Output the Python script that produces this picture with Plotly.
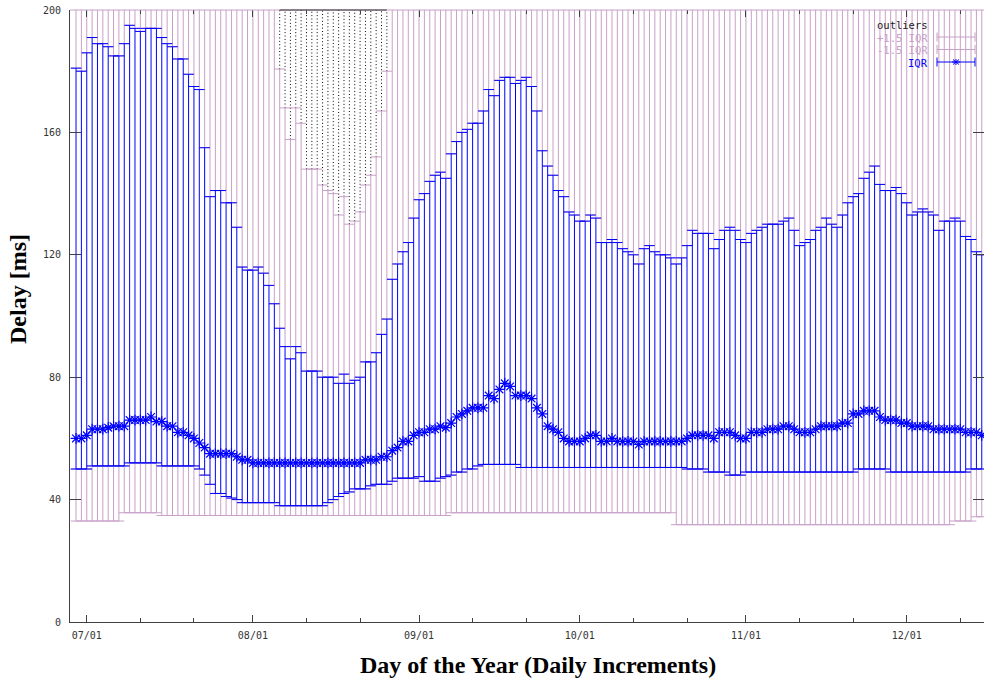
import pandas as pd
import plotly.graph_objects as go

# ---------------- data ----------------
START_DATE = "2009-06-29"   # first daily sample

# upper end of the blue IQR bar (Q3), one value per day
q3 = [
    181, 180, 186, 191, 189, 189, 188, 185, 185, 189,
    195, 194, 193, 194, 194, 194, 191, 189, 188, 184,
    184, 179, 175, 174, 155, 139, 141, 141, 137, 137,
    129, 116, 115, 115, 116, 114, 110, 104, 96, 90,
    86, 90, 88, 82, 82, 82, 80, 80, 80, 78,
    81, 78, 79, 80, 85, 85, 88, 94, 99, 112,
    117, 121, 124, 132, 138, 140, 144, 146, 147, 145,
    153, 157, 160, 161, 163, 163, 167, 174, 172, 177,
    178, 178, 176, 177, 178, 175, 167, 154, 149, 146,
    141, 139, 134, 133, 131, 131, 133, 132, 124, 124,
    125, 124, 122, 121, 120, 117, 122, 123, 121, 120,
    120, 119, 117, 119, 123, 128, 127, 127, 127, 122,
    125, 128, 129, 128, 125, 124, 127, 128, 129, 130,
    130, 130, 131, 132, 128, 123, 124, 125, 128, 129,
    132, 130, 129, 133, 137, 139, 140, 145, 147, 149,
    143, 141, 141, 142, 140, 137, 133, 134, 135, 134,
    133, 128, 131, 131, 132, 131, 126, 125, 121, 120,
]

# median (star marker)
median = [
    60, 60, 61, 63, 63, 63, 63.5, 64, 64, 64,
    66, 66, 66, 66, 67, 65.5, 65.5, 64, 64, 62,
    62, 61, 60, 58.5, 57, 55, 55, 55, 55, 55,
    54, 53, 53, 52, 52, 52, 52, 52, 52, 52,
    52, 52, 52, 52, 52, 52, 52, 52, 52, 52,
    52, 52, 52, 52, 53, 53, 53, 54, 54, 56,
    57, 59, 59, 61, 62, 62, 63, 63, 64, 63.5,
    65, 67, 68, 69, 70, 70, 70, 74, 73, 76,
    78, 77, 74, 74, 74, 73, 70, 68, 64, 63,
    62, 60, 59, 59, 59, 60, 61, 61, 59, 59,
    60, 59, 59, 59, 59, 58, 59, 59, 59, 59,
    59, 59, 59, 59, 60, 61, 61, 61, 61, 60,
    62, 62, 62, 61, 60, 60, 62, 62, 62, 63,
    63, 63, 64, 64, 63, 62, 62, 62, 63, 64,
    64, 64, 64, 65, 65, 68, 68, 69, 69, 69,
    67, 66, 66, 66, 65, 65, 64, 64, 64, 64,
    63, 63, 63, 63, 63, 63, 62, 62, 62, 61,
]

# lower end of the blue IQR bar (Q1)
q1 = [
    50, 50, 50, 51, 51, 51, 51, 51, 51, 51,
    52, 52, 52, 52, 52, 52, 51, 51, 51, 51,
    51, 51, 51, 50, 48, 45, 42, 42, 41, 40.5,
    40, 39, 39, 39, 39, 39, 39, 39, 38, 38,
    38, 38, 38, 38, 38, 38, 38, 39, 40, 41,
    42, 42.5, 43.5, 43.5, 43.5, 44.5, 45, 45, 45, 46,
    47, 47, 47, 47, 47.5, 46, 46, 46, 47, 47.5,
    48, 49, 49, 50, 50, 51, 51.5, 51.5, 51.5, 51.5,
    51.5, 51.5, 51.5, 50.5, 50.5, 50.5, 50.5, 50.5, 50.5, 50.5,
    50.5, 50.5, 50.5, 50.5, 50.5, 50.5, 50.5, 50.5, 50.5, 50.5,
    50.5, 50.5, 50.5, 50.5, 50.5, 50.5, 50.5, 50.5, 50.5, 50.5,
    50.5, 50.5, 50.5, 50.5, 50, 50, 50, 50, 49, 49,
    49, 49, 48, 48, 48, 49, 49, 49, 49, 49,
    49, 49, 49, 49, 49, 49, 49, 49, 49, 49,
    49, 49, 49, 49, 49, 49, 50, 50, 50, 50,
    50, 50, 49, 49, 49, 49, 49, 49, 49, 49,
    49, 49, 49, 49, 49, 49, 49, 50, 50, 50,
]

# Q1 - 1.5 IQR (lower thistle whisker)
lower_whisker = [
    33, 33, 33, 33, 33, 33, 33, 33, 33, 35.7,
    35.7, 35.7, 35.7, 35.7, 35.7, 35.7, 34.8, 34.8, 34.8, 34.8,
    34.8, 34.8, 34.8, 34.8, 34.8, 34.8, 34.8, 34.8, 34.8, 34.8,
    34.8, 34.8, 34.8, 34.8, 34.8, 34.8, 34.8, 34.8, 34.8, 34.8,
    34.8, 34.8, 34.8, 34.8, 34.8, 34.8, 34.8, 34.8, 34.8, 34.8,
    34.8, 34.8, 34.8, 34.8, 34.8, 34.8, 34.8, 34.8, 34.8, 34.8,
    34.8, 34.8, 34.8, 34.8, 34.8, 34.8, 34.8, 34.8, 34.8, 34.8,
    35.7, 35.7, 35.7, 35.7, 35.7, 35.7, 35.7, 35.7, 35.7, 35.7,
    35.7, 35.7, 35.7, 35.7, 35.7, 35.7, 35.7, 35.7, 35.7, 35.7,
    35.7, 35.7, 35.7, 35.7, 35.7, 35.7, 35.7, 35.7, 35.7, 35.7,
    35.7, 35.7, 35.7, 35.7, 35.7, 35.7, 35.7, 35.7, 35.7, 35.7,
    35.7, 35.7, 31.8, 31.8, 31.8, 31.8, 31.8, 31.8, 31.8, 31.8,
    31.8, 31.8, 31.8, 31.8, 31.8, 31.8, 31.8, 31.8, 31.8, 31.8,
    31.8, 31.8, 31.8, 31.8, 31.8, 31.8, 31.8, 31.8, 31.8, 31.8,
    31.8, 31.8, 31.8, 31.8, 31.8, 31.8, 31.8, 31.8, 31.8, 31.8,
    31.8, 31.8, 31.8, 31.8, 31.8, 31.8, 31.8, 31.8, 31.8, 31.8,
    31.8, 31.8, 31.8, 31.8, 33, 33, 33, 33, 34.4, 34.4,
]

# Q3 + 1.5 IQR (upper thistle whisker); None = above the 200 ms limit of the chart
upper_whisker = (
    [None] * 38
    + [180.7, 168, 157.7, 168, 163, 148, 148, 148, 142.8, 141,
       140, 133, 139, 130, 131, 134, 142.8, 146, 152, 167, 180]
    + [None] * 111
)

y_tick_values = [0, 40, 80, 120, 160, 200]
x_major_tick0 = "2009-07-01"
x_minor_ticks = [
    "2009-07-11", "2009-07-21", "2009-08-11", "2009-08-21",
    "2009-09-11", "2009-09-21", "2009-10-11", "2009-10-21",
    "2009-11-11", "2009-11-21", "2009-12-11",
]
x_range = ["2009-06-27 21:00", "2009-12-15 10:00"]
y_range = [0, 200]

# ---------------- styling ----------------
BLUE = "#0000ff"
THISTLE = "#c8a0c8"
AXIS = "#404040"
TICKFONT = dict(family="DejaVu Sans Mono", size=10, color="#333333")
OFF_CHART = 230  # whiskers that leave the chart are drawn past the top and clipped

W, H = 984, 683
ML, MR, MT, MB = 70, 0, 10, 61
PW, PH = W - ML - MR, H - MT - MB


def px(xp):
    return (xp - ML) / PW


def py(yp):
    return (H - MB - yp) / PH


dates = pd.date_range(START_DATE, periods=len(q3), freq="D")
n = len(dates)
upper_draw = [u if u is not None else OFF_CHART for u in upper_whisker]

fig = go.Figure()

# outliers: dotted columns above the upper whisker
ox, oy = [], []
for d, u in zip(dates, upper_whisker):
    if u is not None:
        ox += [d, d, None]
        oy += [u, OFF_CHART, None]
fig.add_trace(go.Scatter(
    x=ox, y=oy, mode="lines", hoverinfo="skip", showlegend=False,
    line=dict(color="black", width=1, dash="1px,2.4px"),
))

invisible = dict(size=1, color="rgba(0,0,0,0)")

# +1.5 IQR
fig.add_trace(go.Scatter(
    x=dates, y=q3, mode="markers", marker=invisible, showlegend=False, hoverinfo="skip",
    error_y=dict(type="data", symmetric=False,
                 array=[u - q for u, q in zip(upper_draw, q3)],
                 arrayminus=[0] * n, color=THISTLE, thickness=1, width=5.3),
))
# -1.5 IQR
fig.add_trace(go.Scatter(
    x=dates, y=q1, mode="markers", marker=invisible, showlegend=False, hoverinfo="skip",
    error_y=dict(type="data", symmetric=False, array=[0] * n,
                 arrayminus=[q - lw for q, lw in zip(q1, lower_whisker)],
                 color=THISTLE, thickness=1, width=5.3),
))
# IQR with median star
fig.add_trace(go.Scatter(
    x=dates, y=median, mode="markers", showlegend=False, hoverinfo="skip",
    marker=dict(symbol="asterisk-open", size=9, color=BLUE, line=dict(color=BLUE, width=1.2)),
    error_y=dict(type="data", symmetric=False,
                 array=[h - m for h, m in zip(q3, median)],
                 arrayminus=[m - l for m, l in zip(median, q1)],
                 color=BLUE, thickness=1, width=5.3),
))
# carrier for the mirrored (top / right) tick axes
fig.add_trace(go.Scatter(x=[], y=[], xaxis="x2", yaxis="y2", showlegend=False, hoverinfo="skip"))

outlier_idx = [i for i, u in enumerate(upper_whisker) if u is not None]

shapes = [
    dict(type="line", xref="paper", yref="paper", x0=0, x1=1, y0=1, y1=1,
         line=dict(color=THISTLE, width=1), layer="above"),
    dict(type="line", xref="x", yref="paper", x0=dates[outlier_idx[0]], x1=dates[outlier_idx[-1]],
         y0=1, y1=1, line=dict(color="#303030", width=1), layer="above"),
]

# ---- legend (drawn by hand, gnuplot style) ----
LEG_TXT_X = px(930)
leg_rows = [("outliers", 25, "#222222"), ("+1.5 IQR", 38, THISTLE),
            ("-1.5 IQR", 50, THISTLE), ("IQR", 63, BLUE)]
annotations = []
for label, ypix, col in leg_rows:
    annotations.append(dict(
        x=LEG_TXT_X, y=py(ypix), xref="paper", yref="paper", text=label, showarrow=False,
        xanchor="right", yanchor="middle",
        font=dict(family="DejaVu Sans Mono", size=10.5, color=col)))
for ypix, col in [(37, THISTLE), (49.5, THISTLE), (62, BLUE)]:
    shapes.append(dict(type="line", xref="paper", yref="paper", x0=px(937), x1=px(975),
                       y0=py(ypix), y1=py(ypix), line=dict(color=col, width=1), layer="above"))
    for xe in (937, 975):
        shapes.append(dict(type="line", xref="paper", yref="paper", x0=px(xe), x1=px(xe),
                           y0=py(ypix - 4.5), y1=py(ypix + 4.5), line=dict(color=col, width=1),
                           layer="above"))
# star in IQR sample
sx, sy = 956, 62
for dx0, dy0, dx1, dy1 in [(-4, 0, 4, 0), (-3, -2.5, 3, 2.5), (-3, 2.5, 3, -2.5), (0, -3, 0, 3)]:
    shapes.append(dict(type="line", xref="paper", yref="paper",
                       x0=px(sx + dx0), x1=px(sx + dx1), y0=py(sy + dy0), y1=py(sy + dy1),
                       line=dict(color=BLUE, width=1), layer="above"))

# axis titles
annotations.append(dict(
    x=px(538), y=py(665), xref="paper", yref="paper", showarrow=False,
    text="Day of the Year (Daily Increments)", xanchor="center", yanchor="middle",
    font=dict(family="Liberation Serif", size=24, color="black", weight="bold")))
annotations.append(dict(
    x=px(18), y=py(289), xref="paper", yref="paper", showarrow=False, textangle=-90,
    text="Delay [ms]", xanchor="center", yanchor="middle",
    font=dict(family="Liberation Serif", size=24, color="black", weight="bold")))

minor_cfg = dict(tickmode="array", tickvals=x_minor_ticks, ticks="inside", ticklen=4,
                 tickcolor=AXIS, tickwidth=1, showgrid=False)

fig.update_layout(
    width=W, height=H,
    margin=dict(l=ML, r=MR, t=MT, b=MB, pad=0),
    paper_bgcolor="white", plot_bgcolor="white",
    showlegend=False,
    shapes=shapes, annotations=annotations,
    xaxis=dict(type="date", range=x_range, showgrid=False, zeroline=False,
               showline=True, linecolor=AXIS, linewidth=1,
               ticks="inside", ticklen=7, tickwidth=1, tickcolor=AXIS,
               tick0=x_major_tick0, dtick="M1", tickformat="%m/%d",
               tickfont=TICKFONT, ticklabelstandoff=4, minor=minor_cfg),
    yaxis=dict(range=y_range, showgrid=False, zeroline=False,
               showline=True, linecolor=AXIS, linewidth=1,
               tickmode="array", tickvals=y_tick_values,
               ticks="inside", ticklen=11, tickwidth=1, tickcolor=AXIS,
               tickfont=TICKFONT, ticklabelstandoff=6),
    xaxis2=dict(type="date", range=x_range, overlaying="x", side="top", anchor="y",
                showgrid=False, zeroline=False, showline=False, showticklabels=False,
                ticks="inside", ticklen=7, tickwidth=1, tickcolor=AXIS,
                tick0=x_major_tick0, dtick="M1", minor=minor_cfg),
    yaxis2=dict(range=y_range, overlaying="y", side="right", anchor="x",
                showgrid=False, zeroline=False, showline=False, showticklabels=False,
                tickmode="array", tickvals=y_tick_values,
                ticks="inside", ticklen=11, tickwidth=1, tickcolor=AXIS),
)

fig.write_html(
    "out.html",
    config={"displayModeBar": False},
    post_script="document.body.style.margin='0';document.body.style.overflow='hidden';",
)
